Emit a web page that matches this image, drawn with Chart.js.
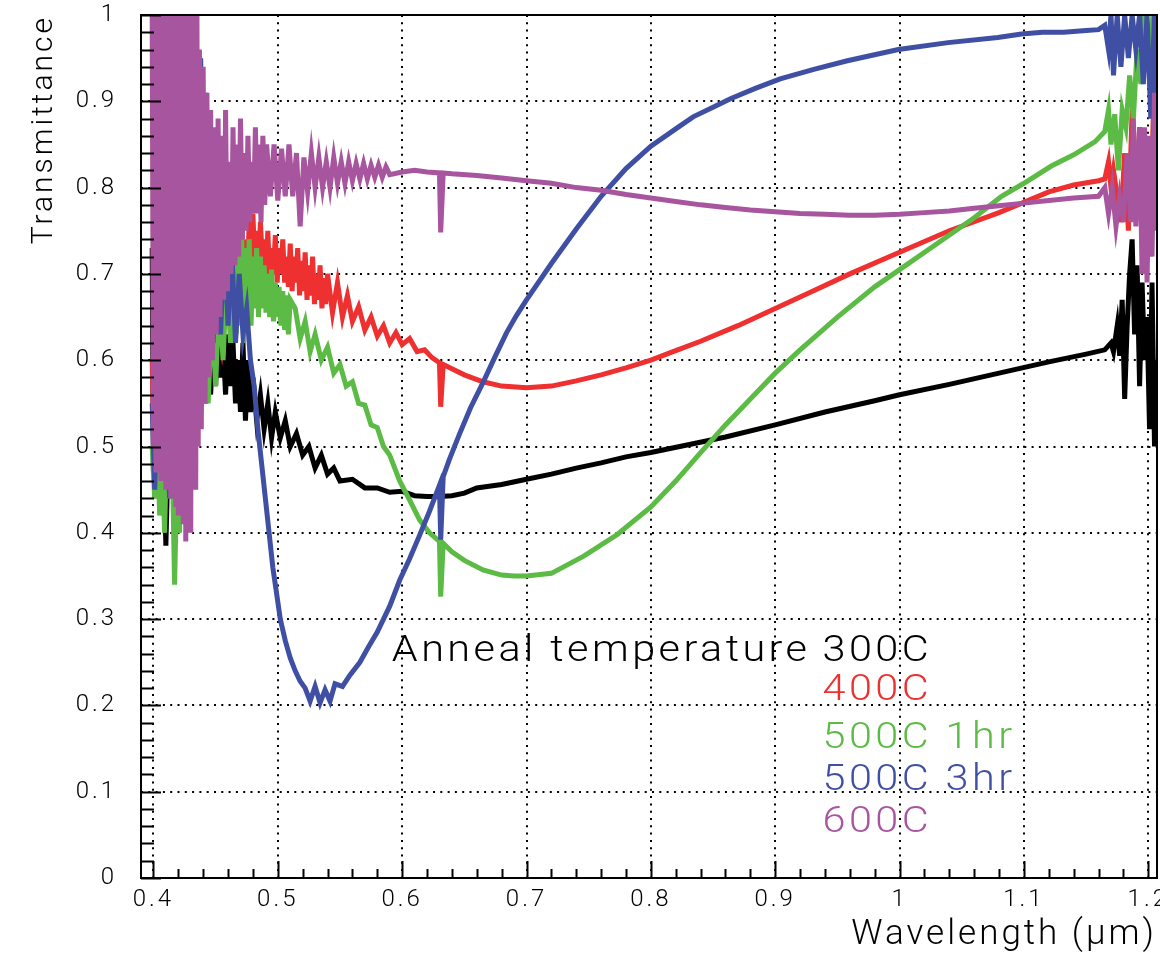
<!DOCTYPE html>
<html>
<head>
<meta charset="utf-8">
<script src="https://cdn.jsdelivr.net/npm/chart.js@4.4.0/dist/chart.umd.min.js"></script>
<style>
    html, body { margin: 0; padding: 0; background: #fff; }
</style>
</head>
<body>
<canvas id="chart" width="1160" height="962"></canvas>
<script>
// Data (wavelength in um, transmittance 0..1)
const wl300 = [0.399,0.400,0.401,0.402,0.404,0.406,0.408,0.410,0.412,0.414,0.416,0.418,0.420,0.423,0.426,0.429,0.432,
    0.434,0.436,0.438,0.440,0.442,0.444,0.446,0.448,0.450,0.452,0.454,0.456,0.458,0.460,0.462,0.464,0.466,0.468,0.470,0.472,0.474,0.476,0.478,0.480,
    0.483,0.486,0.489,0.492,0.495,0.498,0.502,0.506,0.510,0.515,0.520,0.525,0.530,0.535,0.540,0.545,0.550,
    0.56,0.57,0.58,0.59,0.60,0.61,0.62,0.63,0.64,0.65,0.66,0.68,0.70,0.72,0.74,0.76,0.78,0.80,
    0.83,0.86,0.90,0.94,0.98,1.00,1.04,1.08,1.12,1.15,1.165,
    1.170,1.172,1.175,1.177,1.179,1.181,1.183,1.185,1.187,1.189,1.191,1.193,1.195,1.197,1.199,1.201,1.203,1.205,1.207];
const t300 = [0.73,0.47,0.68,0.44,0.55,0.46,0.51,0.385,0.50,0.45,0.53,0.46,0.55,0.48,0.56,0.52,0.58,
    0.53,0.60,0.54,0.61,0.55,0.62,0.56,0.63,0.57,0.64,0.58,0.62,0.56,0.63,0.57,0.62,0.55,0.60,0.54,0.62,0.53,0.60,0.54,0.58,
    0.53,0.56,0.52,0.55,0.51,0.54,0.51,0.53,0.50,0.515,0.49,0.50,0.475,0.49,0.468,0.475,0.46,
    0.462,0.452,0.452,0.447,0.448,0.443,0.442,0.442,0.443,0.446,0.452,0.456,0.462,0.468,0.475,0.481,0.488,0.493,
    0.502,0.511,0.525,0.54,0.553,0.56,0.572,0.585,0.598,0.607,0.612,
    0.62,0.61,0.64,0.605,0.67,0.555,0.64,0.70,0.74,0.63,0.71,0.57,0.69,0.60,0.65,0.52,0.69,0.50,0.60];

const wl400 = [0.399,0.400,0.402,0.404,0.406,0.409,0.412,0.416,0.420,0.425,0.430,0.435,0.440,0.445,0.450,0.455,0.460,0.464,
    0.468,0.4695,0.471,0.4725,0.474,0.4755,0.477,0.4785,0.480,0.4815,0.483,0.4845,0.486,0.4875,0.489,0.4905,0.492,0.4935,0.495,0.4965,
    0.498,0.4995,0.501,0.5025,0.504,0.5055,0.507,0.5085,0.510,0.5115,0.513,0.5145,0.516,0.5175,0.519,0.5205,0.522,0.5235,0.525,0.5265,
    0.528,0.5295,0.531,0.5325,0.534,0.5355,0.537,0.5385,0.540,
    0.544,0.548,0.552,0.556,0.560,0.565,0.570,0.575,0.580,0.585,0.590,0.595,0.600,
    0.606,0.612,0.618,0.624,0.630,0.631,0.633,
    0.64,0.65,0.665,0.68,0.70,0.72,0.74,0.76,0.78,0.80,0.82,0.84,
    0.87,0.90,0.93,0.96,1.00,1.04,1.08,1.12,1.14,1.16,
    1.165,1.168,1.170,1.172,1.175,1.178,1.181,1.184,1.187,1.190,1.193,1.196,1.199,1.202,1.205,1.207];
const t400 = [0.60,0.53,0.58,0.50,0.56,0.48,0.55,0.50,0.58,0.52,0.62,0.56,0.66,0.60,0.68,0.62,0.70,0.64,
    0.73,0.65,0.75,0.67,0.74,0.69,0.76,0.70,0.77,0.71,0.75,0.70,0.76,0.72,0.74,0.70,0.75,0.69,0.73,0.70,
    0.745,0.69,0.73,0.70,0.74,0.69,0.72,0.685,0.735,0.68,0.72,0.69,0.73,0.675,0.715,0.68,0.725,0.67,0.71,0.675,
    0.72,0.665,0.70,0.67,0.71,0.66,0.695,0.665,0.70,
    0.655,0.69,0.65,0.675,0.645,0.662,0.635,0.65,0.628,0.64,0.62,0.632,0.618,
    0.625,0.61,0.612,0.603,0.597,0.546,0.595,
    0.59,0.583,0.575,0.57,0.568,0.57,0.576,0.583,0.591,0.60,0.611,0.622,
    0.64,0.66,0.68,0.70,0.725,0.75,0.771,0.795,0.803,0.808,
    0.81,0.83,0.80,0.82,0.79,0.76,0.84,0.75,0.89,0.78,0.87,0.74,0.85,0.78,0.93,0.80];

const wl500a = [0.399,0.401,0.403,0.405,0.407,0.409,0.411,0.413,0.415,0.417,0.419,0.421,0.423,
    0.426,0.429,0.432,0.435,0.438,0.441,0.444,0.447,0.450,0.453,0.456,0.459,0.462,
    0.465,0.4665,0.468,0.4695,0.471,0.4725,0.474,0.4755,0.477,0.4785,0.480,0.4815,0.483,0.4845,0.486,0.4875,
    0.489,0.4905,0.492,0.4935,0.495,0.4965,0.498,0.4995,0.501,0.5025,0.504,0.5055,0.507,0.5085,0.510,
    0.514,0.518,0.522,0.526,0.530,
    0.535,0.540,0.545,0.550,0.555,0.560,0.565,0.570,0.575,0.580,0.585,0.590,
    0.598,0.606,0.614,0.622,0.630,0.631,0.633,
    0.64,0.65,0.665,0.68,0.69,0.70,0.72,0.746,0.773,0.80,0.82,0.84,0.86,0.88,0.90,0.92,0.95,0.98,1.00,1.03,1.06,1.082,1.10,1.122,1.14,1.157,
    1.165,1.168,1.170,1.173,1.176,1.179,1.182,1.185,1.188,1.191,1.194,1.197,1.200,1.203,1.206];
const t500a = [0.50,0.44,0.52,0.42,0.49,0.40,0.53,0.44,0.50,0.34,0.47,0.40,0.55,
    0.48,0.58,0.51,0.62,0.54,0.64,0.55,0.66,0.57,0.68,0.60,0.70,0.62,
    0.72,0.63,0.73,0.64,0.74,0.62,0.73,0.65,0.74,0.64,0.72,0.66,0.73,0.65,0.72,0.66,
    0.71,0.655,0.70,0.65,0.705,0.645,0.69,0.65,0.685,0.64,0.68,0.635,0.675,0.63,0.67,
    0.66,0.625,0.645,0.61,0.63,
    0.60,0.615,0.585,0.595,0.57,0.575,0.55,0.548,0.525,0.522,0.50,0.49,
    0.46,0.438,0.415,0.40,0.39,0.326,0.388,
    0.378,0.368,0.357,0.351,0.35,0.35,0.353,0.373,0.398,0.43,0.46,0.493,0.525,0.555,0.585,0.612,0.65,0.685,0.705,0.735,0.765,0.79,0.805,0.825,0.838,0.853,
    0.865,0.89,0.85,0.885,0.82,0.89,0.87,0.93,0.88,0.96,0.92,1.0,0.95,0.99,0.96];

const wl500b = [0.399,0.401,0.404,0.407,0.410,0.413,0.416,0.419,0.422,0.425,0.428,0.431,0.434,0.437,
    0.438,0.440,0.442,0.443,0.445,
    0.448,0.451,0.454,0.457,0.460,0.463,0.466,0.469,0.472,0.475,0.478,
    0.481,0.484,0.487,0.490,0.493,0.496,0.499,0.502,0.506,0.510,0.514,0.518,0.522,0.526,0.530,0.534,0.538,0.542,0.546,
    0.552,0.558,0.566,0.573,0.58,0.59,0.598,0.606,0.614,0.622,0.630,0.631,0.633,
    0.638,0.646,0.655,0.665,0.675,0.684,0.692,0.70,
    0.72,0.74,0.76,0.78,0.80,0.82,0.834,0.85,0.864,0.884,0.904,0.931,0.958,0.999,1.039,1.079,1.098,1.115,1.132,1.15,1.16,1.165,
    1.168,1.170,1.172,1.175,1.178,1.181,1.184,1.187,1.190,1.193,1.196,1.199,1.202,1.205,1.207];
const t500b = [0.55,0.45,0.60,0.48,0.57,0.44,0.52,0.45,0.60,0.50,0.66,0.58,0.67,0.60,
    0.95,0.62,0.91,0.64,0.70,
    0.62,0.74,0.63,0.75,0.64,0.73,0.62,0.70,0.63,0.66,0.60,
    0.57,0.52,0.48,0.44,0.40,0.36,0.33,0.30,0.275,0.255,0.24,0.228,0.22,0.205,0.222,0.203,0.218,0.205,0.225,
    0.222,0.235,0.25,0.268,0.285,0.315,0.345,0.37,0.397,0.425,0.455,0.392,0.465,
    0.485,0.514,0.545,0.574,0.605,0.632,0.652,0.67,
    0.712,0.752,0.79,0.822,0.848,0.868,0.882,0.893,0.903,0.915,0.926,0.937,0.947,0.96,0.968,0.974,0.978,0.98,0.98,0.982,0.983,0.988,
    0.96,1.0,0.93,1.0,0.94,1.0,0.95,1.0,0.96,1.0,0.92,1.0,0.88,1.0,0.90];

const wl600 = [0.399,0.400,0.401,0.402,0.403,0.404,0.405,0.406,0.407,0.408,0.409,0.410,0.411,0.412,0.413,0.414,0.415,0.416,0.417,0.418,
    0.419,0.420,0.421,0.422,0.423,0.424,0.425,0.426,0.427,0.428,0.429,0.430,0.431,0.432,0.433,0.434,0.435,0.436,
    0.437,0.4385,0.440,0.4415,0.443,0.4445,0.446,0.4475,0.449,0.4505,0.452,0.4535,0.455,0.4565,0.458,0.4595,0.461,0.4625,0.464,0.4655,
    0.467,0.4685,0.470,0.4715,0.473,0.4745,0.476,0.4775,0.479,0.4805,0.482,0.4835,0.485,0.4865,0.488,0.4895,0.491,
    0.494,0.497,0.500,0.503,0.506,0.509,0.512,0.515,0.518,0.521,0.524,0.527,0.530,0.533,0.536,0.539,0.542,0.545,0.548,0.551,
    0.554,0.557,0.560,0.563,0.566,0.569,0.572,0.575,0.578,0.581,0.584,0.587,0.590,
    0.60,0.61,0.62,0.630,0.631,0.633,
    0.64,0.66,0.68,0.70,0.72,0.74,0.76,0.78,0.80,0.82,0.84,0.86,0.88,0.90,0.92,0.94,0.96,0.98,1.00,1.02,1.04,1.06,1.08,1.10,1.12,1.14,1.16,
    1.165,1.168,1.171,1.174,1.177,1.180,1.183,1.186,1.188,1.190,1.193,1.195,1.197,1.199,1.201,1.203,1.205,1.207];
const t600 = [1.0,0.50,1.0,0.47,1.0,0.55,1.0,0.46,1.0,0.52,1.0,0.45,1.0,0.49,1.0,0.44,1.0,0.48,1.0,
    0.43,1.0,0.42,1.0,0.46,1.0,0.41,1.0,0.39,1.0,0.44,1.0,0.40,1.0,0.47,1.0,0.45,1.0,0.50,
    0.96,0.52,0.94,0.55,0.91,0.58,0.89,0.60,0.87,0.63,0.88,0.65,0.86,0.67,0.89,0.68,0.83,0.70,0.87,0.71,0.85,
    0.72,0.88,0.74,0.84,0.75,0.86,0.76,0.83,0.77,0.87,0.77,0.85,0.76,0.86,0.78,0.85,
    0.79,0.85,0.785,0.845,0.79,0.85,0.79,0.84,0.755,0.835,0.795,0.84,0.80,0.835,0.80,0.83,0.80,0.835,0.805,0.83,
    0.805,0.83,0.808,0.828,0.81,0.828,0.81,0.826,0.812,0.826,0.812,0.824,0.815,
    0.818,0.82,0.818,0.817,0.748,0.817,
    0.816,0.814,0.811,0.808,0.805,0.80,0.797,0.792,0.788,0.784,0.78,0.777,0.774,0.772,0.77,0.769,0.768,0.768,0.769,0.771,0.773,0.776,0.779,0.782,0.785,0.788,0.79,
    0.80,0.77,0.80,0.755,0.79,0.76,0.84,0.76,0.88,0.755,0.87,0.70,0.87,0.69,0.86,0.72,0.91,0.75];

const seriesLabels = ['300C', '400C', '500C 1hr', '500C 3hr', '600C'];
const seriesColors = ['#000000', '#ee3030', '#5cbb45', '#3f4fa3', '#a8559f'];
const xTickValues = [0.4, 0.5, 0.6, 0.7, 0.8, 0.9, 1.0, 1.1, 1.2];
const yTickValues = [0, 0.1, 0.2, 0.3, 0.4, 0.5, 0.6, 0.7, 0.8, 0.9, 1.0];

const FONT = 'Roboto, "Liberation Sans", sans-serif';

function toPoints(xs, ys) {
    return xs.map((x, i) => ({ x: x, y: ys[i] }));
}

function tickText(v) {
    return String(Math.round(v * 10) / 10);
}

// wide, spaced lettering for the axis texts (the original uses a stroke font)
const wideText = {
    id: 'wideText',
    beforeDraw(chart) { chart.ctx.letterSpacing = '3px'; },
    beforeDatasetsDraw(chart) { chart.ctx.letterSpacing = '0px'; }
};

// ROOT-style inner ticks, frame and the coloured text legend
const rootFrame = {
    id: 'rootFrame',
    afterDatasetsDraw(chart) {
        const { ctx, chartArea: a, scales: { x, y } } = chart;
        ctx.save();
        ctx.strokeStyle = '#000';
        ctx.lineWidth = 2;
        ctx.beginPath();
        for (let k = 0; k <= 70; k++) {
            const v = k * 0.02;
            if (v < x.min || v > x.max) continue;
            const px = Math.round(x.getPixelForValue(v)) + 0.5;
            const len = k % 5 === 0 ? 17 : 9;
            ctx.moveTo(px, a.bottom);
            ctx.lineTo(px, a.bottom - len);
        }
        for (let k = 0; k <= 50; k++) {
            const py = Math.round(y.getPixelForValue(k * 0.02)) + 0.5;
            const len = k % 5 === 0 ? 20 : 13;
            ctx.moveTo(a.left, py);
            ctx.lineTo(a.left + len, py);
        }
        ctx.stroke();
        ctx.strokeRect(a.left, a.top, a.right - a.left, a.bottom - a.top);

        // legend text
        const rows = [0.262, 0.217, 0.161, 0.112, 0.064];
        const sx = 1.15;
        const ax = x.getPixelForValue(0.938);
        ctx.scale(sx, 1);
        ctx.letterSpacing = '3px';
        ctx.font = '300 36px ' + FONT;
        ctx.textBaseline = 'middle';
        ctx.textAlign = 'right';
        ctx.fillStyle = '#000';
        ctx.fillText('Anneal temperature', (ax - 12) / sx, y.getPixelForValue(rows[0]));
        ctx.textAlign = 'left';
        seriesLabels.forEach((lab, i) => {
            ctx.fillStyle = seriesColors[i];
            ctx.fillText(lab, ax / sx, y.getPixelForValue(rows[i]));
        });
        ctx.restore();
    }
};

const allX = [wl300, wl400, wl500a, wl500b, wl600];
const allY = [t300, t400, t500a, t500b, t600];

const datasets = seriesLabels.map((lab, i) => ({
    label: lab,
    data: toPoints(allX[i], allY[i]),
    borderColor: seriesColors[i],
    backgroundColor: seriesColors[i],
    borderWidth: 5,
    pointRadius: 0,
    tension: 0,
    fill: false,
    order: 5 - i
}));

function noPad(s) {
    s.paddingTop = 0;
    s.paddingBottom = 0;
    s.paddingLeft = 0;
    s.paddingRight = 0;
}

new Chart(document.getElementById('chart').getContext('2d'), {
    type: 'line',
    data: { datasets: datasets },
    options: {
        responsive: false,
        animation: false,
        layout: { padding: { top: 15, right: 3, left: 0, bottom: 0 } },
        plugins: {
            legend: { display: false },
            tooltip: { enabled: false }
        },
        scales: {
            x: {
                type: 'linear',
                min: 0.39,
                max: 1.207,
                afterBuildTicks: s => { s.ticks = xTickValues.map(v => ({ value: v })); },
                afterFit: s => { s.height = 84; noPad(s); },
                ticks: {
                    callback: v => tickText(v),
                    color: '#000',
                    font: { family: FONT, size: 24, weight: '300' },
                    padding: 8,
                    maxRotation: 0,
                    autoSkip: false
                },
                grid: { color: '#000', lineWidth: 2, drawTicks: false },
                border: { display: false, dash: [2, 5.3] },
                title: {
                    display: true,
                    text: 'Wavelength (μm)',
                    align: 'end',
                    color: '#000',
                    font: { family: FONT, size: 35, weight: '300' },
                    padding: { top: 0, bottom: 6 }
                }
            },
            y: {
                type: 'linear',
                min: 0,
                max: 1,
                afterBuildTicks: s => { s.ticks = yTickValues.map(v => ({ value: v })); },
                afterFit: s => { s.width = 141; noPad(s); },
                ticks: {
                    callback: v => tickText(v),
                    color: '#000',
                    font: { family: FONT, size: 24, weight: '300' },
                    padding: 24
                },
                grid: { color: '#000', lineWidth: 2, drawTicks: false },
                border: { display: false, dash: [2, 5.3] },
                title: {
                    display: true,
                    text: 'Transmittance',
                    align: 'end',
                    color: '#000',
                    font: { family: FONT, size: 30, weight: '300' },
                    padding: { top: 26, bottom: 0 }
                }
            }
        }
    },
    plugins: [wideText, rootFrame]
});
</script>
</body>
</html>
